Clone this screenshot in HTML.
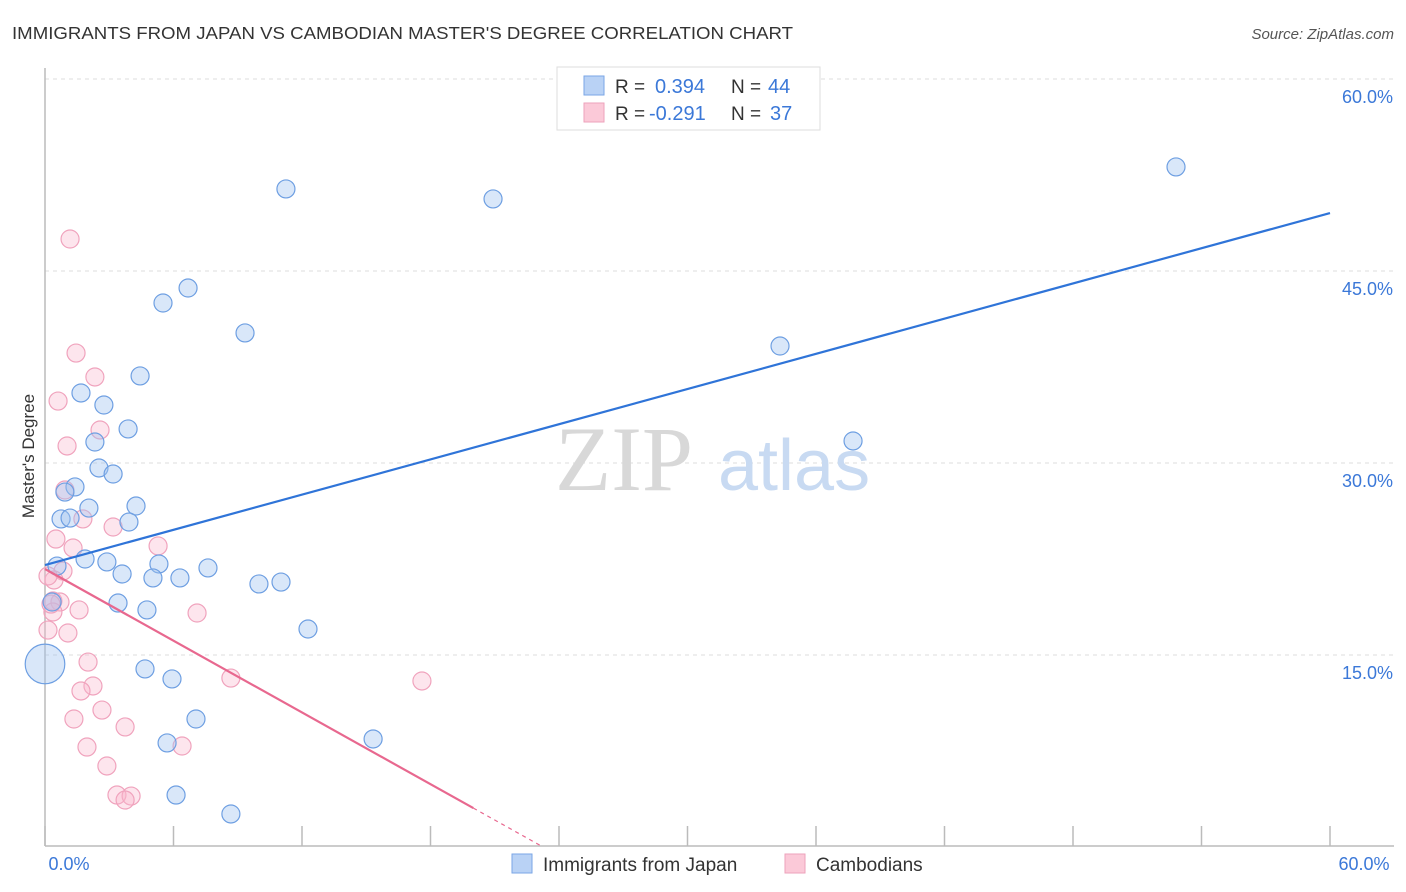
<!DOCTYPE html>
<html><head><meta charset="utf-8"><style>
body{margin:0;background:#fff;font-family:"Liberation Sans",sans-serif;}
svg{display:block}
</style></head><body>
<svg id="chart" width="1406" height="892" xmlns="http://www.w3.org/2000/svg">
<text x="12" y="39" font-size="17.5" fill="#333" textLength="781" lengthAdjust="spacingAndGlyphs">IMMIGRANTS FROM JAPAN VS CAMBODIAN MASTER'S DEGREE CORRELATION CHART</text>
<text x="1394" y="39" font-size="15" font-style="italic" fill="#555" text-anchor="end">Source: ZipAtlas.com</text>
<g id="grid"></g>
<g>
<text x="555" y="490" font-family="Liberation Serif,serif" font-size="92" fill="#d8d8d8">ZIP</text>
<text x="718" y="490" font-size="72" fill="#c8daf2">atlas</text>
</g>
<line x1="45" y1="68" x2="45" y2="846" stroke="#bbb" stroke-width="1.5"/>
<line x1="45" y1="846" x2="1394" y2="846" stroke="#bbb" stroke-width="1.5"/>
<g id="xticks"></g>
<g id="ylabels"></g>
<text x="69" y="870" font-size="18" fill="#3b78d8" text-anchor="middle">0.0%</text>
<text x="1364" y="870" font-size="18" fill="#3b78d8" text-anchor="middle">60.0%</text>
<text transform="translate(34,456) rotate(-90)" font-size="17" fill="#333" text-anchor="middle">Master's Degree</text>
<g id="pinkpts"></g>
<g id="bluepts"></g>
<g id="trends"></g>
<g>
<rect x="557" y="67" width="263" height="63" fill="#fff" stroke="#ddd"/>
<rect x="584" y="76" width="20" height="19" fill="#b9d2f5" stroke="#7aa6e6"/>
<rect x="584" y="103" width="20" height="19" fill="#fbc9d8" stroke="#eea2bb"/>
<text x="615" y="93" font-size="19" fill="#333">R =</text>
<text x="655" y="93" font-size="20" fill="#3b78d8">0.394</text>
<text x="731" y="93" font-size="19" fill="#333">N =</text>
<text x="768" y="93" font-size="20" fill="#3b78d8">44</text>
<text x="615" y="120" font-size="19" fill="#333">R =</text>
<text x="649" y="120" font-size="20" fill="#3b78d8">-0.291</text>
<text x="731" y="120" font-size="19" fill="#333">N =</text>
<text x="770" y="120" font-size="20" fill="#3b78d8">37</text>
</g>
<g>
<rect x="512" y="854" width="20" height="19" fill="#b9d2f5" stroke="#7aa6e6"/>
<text x="543" y="871" font-size="19" fill="#333">Immigrants from Japan</text>
<rect x="785" y="854" width="20" height="19" fill="#fbc9d8" stroke="#eea2bb"/>
<text x="816" y="871" font-size="19" fill="#333">Cambodians</text>
</g>
</svg>
<script>
const yTicks = [15, 30, 45, 60];
const yTickLabels = ["15.0%", "30.0%", "45.0%", "60.0%"];
const xTickVals = [0, 6, 12, 18, 24, 30, 36, 42, 48, 54, 60];
const japanX = [52.81,11.25,20.92,6.68,5.51,9.34,34.32,37.73,4.44,1.68,2.75,3.88,2.33,2.52,3.18,1.40,0.93,2.05,4.25,0.75,1.17,3.92,1.87,2.89,0.56,5.32,7.61,3.60,5.04,6.30,9.99,11.02,0.33,3.41,4.76,12.28,4.67,5.93,7.05,5.70,15.32,6.12,8.68,0];
const japanY = [53.13,51.41,50.63,43.67,42.5,40.16,39.14,31.72,36.8,35.47,34.53,32.66,31.64,29.61,29.14,28.13,27.73,26.48,26.64,25.63,25.70,25.39,22.5,22.27,21.95,22.11,21.80,21.33,21.02,21.02,20.55,20.70,19.14,19.06,18.52,17.03,13.91,13.13,10.0,8.13,8.44,4.06,2.58,14.3];
const japanSize = [1,1,1,1,1,1,1,1,1,1,1,1,1,1,1,1,1,1,1,1,1,1,1,1,1,1,1,1,1,1,1,1,1,1,1,1,1,1,1,1,1,1,1,2.2];
const cambX = [1.17,1.45,2.33,0.61,2.57,1.03,0.93,1.77,3.18,0.51,1.31,5.28,0.84,0.42,0.37,0.70,1.59,0.37,7.10,0.14,1.07,2.01,2.24,1.68,8.68,17.6,2.66,1.35,3.74,1.96,6.40,2.89,3.36,4.02,3.74,0.14,0.28];
const cambY = [47.5,38.59,36.72,34.84,32.58,31.33,27.89,25.63,25.0,24.06,23.36,23.52,21.56,20.86,19.22,19.14,18.52,18.36,18.28,16.95,16.72,14.45,12.58,12.19,13.2,12.97,10.70,10.0,9.38,7.81,7.89,6.33,4.06,3.98,3.67,21.17,18.98];
const japanTrend = [22.03, 0.4583]; // intercept, slope
const cambTrend = [21.72, -0.934];
const cambSolidEnd = 20.0;

const NS = "http://www.w3.org/2000/svg";
const xs = v => 45 + v / 60 * 1285;
const ys = v => 847 - v / 60 * 768;
function mk(tag, attrs, parent) {
  const e = document.createElementNS(NS, tag);
  for (const k in attrs) e.setAttribute(k, attrs[k]);
  parent.appendChild(e);
  return e;
}
const grid = document.getElementById('grid');
yTicks.forEach((t, i) => {
  const g = mk('line', {x1: 45, x2: 1394, y1: ys(t), y2: ys(t), stroke: '#ddd', 'stroke-dasharray': '4,4'}, grid);
  
  
  const l = mk('text', {x: 1393, y: ys(t) + 24, 'font-size': 18, fill: '#3b78d8', 'text-anchor': 'end'}, document.getElementById('ylabels'));
  l.textContent = yTickLabels[i];
  
  
});
const xt = document.getElementById('xticks');
xTickVals.forEach(v => {
  const t = mk('line', {x1: xs(v), x2: xs(v), y1: 826, y2: 846, stroke: '#bbb', 'stroke-width': 1.5}, xt);
  
  
});
const pp = document.getElementById('pinkpts');
cambX.forEach((v, i) => {
  const c = mk('circle', {cx: xs(v), cy: ys(cambY[i]), r: 9, fill: 'rgba(248,180,202,0.35)', stroke: '#f0a3bd', 'stroke-width': 1.2}, pp);
  
  
});
const bp = document.getElementById('bluepts');
japanX.forEach((v, i) => {
  const c = mk('circle', {cx: xs(v), cy: ys(japanY[i]), r: 9 * japanSize[i], fill: 'rgba(160,195,240,0.4)', stroke: '#6e9fe2', 'stroke-width': 1.2}, bp);
  
  
});
const tr = document.getElementById('trends');
const bl = mk('line', {x1: xs(0), y1: ys(japanTrend[0]), x2: xs(60), y2: ys(japanTrend[0] + 60 * japanTrend[1]), stroke: '#2f74d8', 'stroke-width': 2.2}, tr);


const pl = mk('line', {x1: xs(0), y1: ys(cambTrend[0]), x2: xs(cambSolidEnd), y2: ys(cambTrend[0] + cambSolidEnd * cambTrend[1]), stroke: '#e8688f', 'stroke-width': 2.2}, tr);


const zx = -cambTrend[0] / cambTrend[1];
const pd = mk('line', {x1: xs(cambSolidEnd), y1: ys(cambTrend[0] + cambSolidEnd * cambTrend[1]), x2: xs(zx), y2: ys(0), stroke: '#e8688f', 'stroke-width': 1.2, 'stroke-dasharray': '4,4'}, tr);


</script>
</body></html>
